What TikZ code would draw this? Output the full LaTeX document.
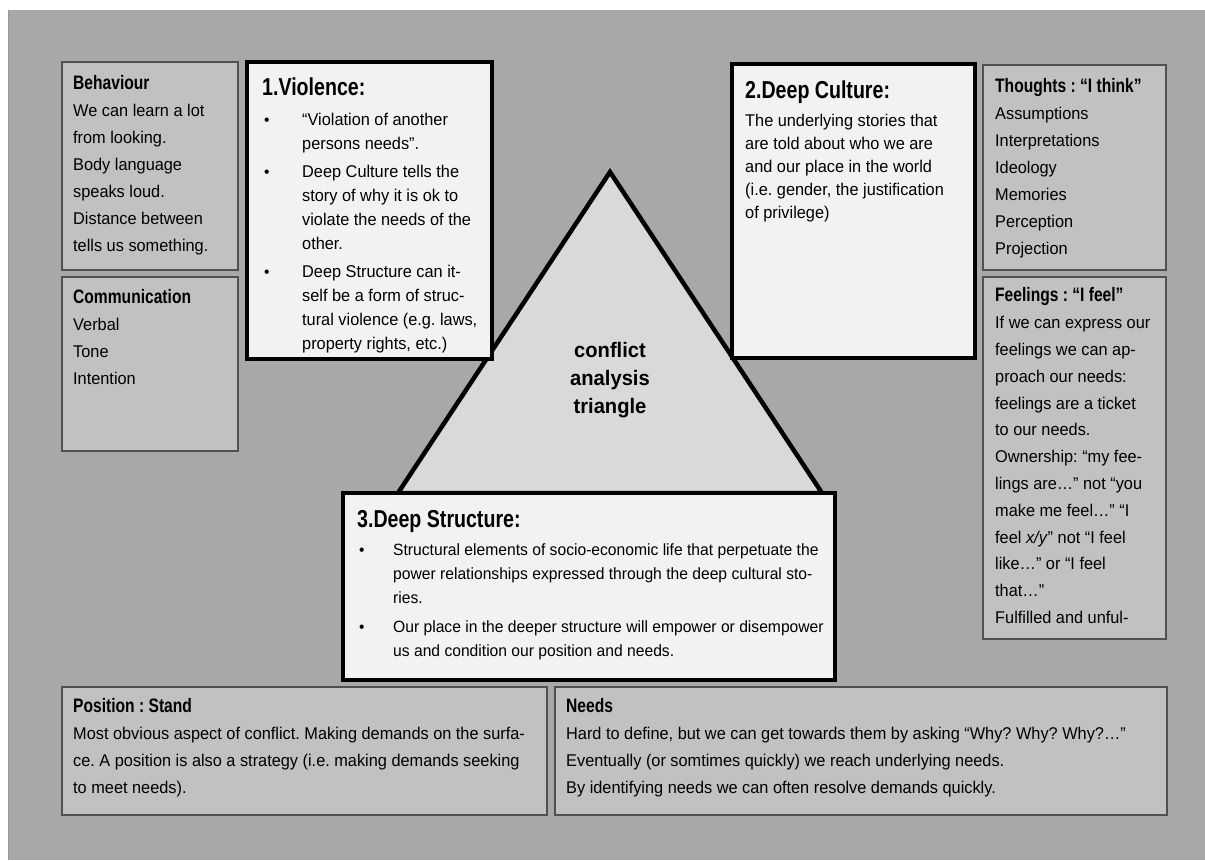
\documentclass[tikz,border=0pt]{standalone}
\usepackage{fontspec}
\setmainfont[FakeStretch=0.96]{Liberation Sans}
\newfontfamily\headface[FakeStretch=0.8]{Liberation Sans}
\usetikzlibrary{positioning}
\frenchspacing
\definecolor{bggray}{RGB}{168,168,168}
\definecolor{boxgray}{RGB}{193,193,193}
\definecolor{paper}{RGB}{242,242,242}
\definecolor{trigray}{RGB}{217,217,217}
\definecolor{edgegray}{RGB}{80,80,80}
\newcommand\boxhead[1]{{\headface\bfseries\fontsize{19.5}{19.5}\selectfont #1}}
\newcommand\bighead[1]{{\headface\bfseries\fontsize{24.5}{24.5}\selectfont #1}}
\newcommand\bul[1]{\makebox[#1][l]{\hspace{2pt}{\fontsize{16}{16}\selectfont\textbullet}}}

\begin{document}
\begin{tikzpicture}[x=1pt,y=-1pt,
    sidebox/.style={draw=edgegray, line width=1.6pt, fill=boxgray, inner sep=0pt, outer sep=0pt},
    mainbox/.style={draw=black, line width=4.5pt, fill=paper, inner sep=0pt, outer sep=0pt},
    boxtext/.style={anchor=north west, align=left, inner sep=0pt},
    wide/.style={font=\fontsize{17}{27}\selectfont},
    tight/.style={font=\fontsize{17}{24}\selectfont}]
    \useasboundingbox (0,0) rectangle (1205,860);
    \fill[bggray] (8,10) rectangle (1205,860);
    \draw[edgegray!60, line width=1pt] (8,10) -- (8,860);

    % the triangle in the middle
    \coordinate (apex) at (610,172);
    \coordinate (leftfoot) at (398,493);
    \coordinate (rightfoot) at (822,493);
    \draw[line width=4.5pt, fill=trigray, line join=miter] (apex) -- (rightfoot) -- (leftfoot) -- cycle;
    \node[align=center, font=\bfseries\fontsize{21}{28}\selectfont] (trilabel) at (610,380)
      {conflict\\analysis\\triangle};

    % left column
    \node[sidebox, anchor=north west, minimum width=176pt, minimum height=208pt] (behaviour) at (62,62) {};
    \node[sidebox, below=7pt of behaviour, minimum width=176pt, minimum height=174pt] (communication) {};
    \node[boxtext, wide] (behaviourtext) at ([shift={(11,8)}]behaviour.north west)
      {\strut\boxhead{Behaviour}\\
       We can learn a lot\\
       from looking.\\
       Body language\\
       speaks loud.\\
       Distance between\\
       tells us something.};
    \node[boxtext, wide] (communicationtext) at ([shift={(11,7)}]communication.north west)
      {\strut\boxhead{Communication}\\
       Verbal\\
       Tone\\
       Intention};

    % right column
    \node[sidebox, anchor=north west, minimum width=183pt, minimum height=205pt] (thoughts) at (983,65) {};
    \node[sidebox, below=7pt of thoughts, minimum width=183pt, minimum height=362pt] (feelings) {};
    \node[boxtext, wide] (thoughtstext) at ([shift={(12,8)}]thoughts.north west)
      {\strut\boxhead{Thoughts : “I think”}\\
       Assumptions\\
       Interpretations\\
       Ideology\\
       Memories\\
       Perception\\
       Projection};
    \node[boxtext, font=\fontsize{17}{26.8}\selectfont] (feelingstext) at ([shift={(12,6)}]feelings.north west)
      {\strut\boxhead{Feelings : “I feel”}\\
       If we can express our\\
       feelings we can ap-\\
       proach our needs:\\
       feelings are a ticket\\
       to our needs.\\
       Ownership: “my fee-\\
       lings are…” not “you\\
       make me feel…” “I\\
       feel \textit{x/y}” not “I feel\\
       like…” or “I feel\\
       that…”\\
       Fulfilled and unful-};

    % the three corners
    \node[mainbox, anchor=north west, minimum width=245pt, minimum height=297pt] (violence) at (247,62) {};
    \node[boxtext, tight] (violencetext) at ([shift={(15,16)}]violence.north west)
      {\strut\bighead{1.Violence:}\\[6pt]
       \bul{40pt}“Violation of another\\
       \hspace*{40pt}persons needs”.\\[4pt]
       \bul{40pt}Deep Culture tells the\\
       \hspace*{40pt}story of why it is ok to\\
       \hspace*{40pt}violate the needs of the\\
       \hspace*{40pt}other.\\[4pt]
       \bul{40pt}Deep Structure can it-\\
       \hspace*{40pt}self be a form of struc-\\
       \hspace*{40pt}tural violence (e.g. laws,\\
       \hspace*{40pt}property rights, etc.)};

    \node[mainbox, anchor=north west, minimum width=243pt, minimum height=294pt] (deepculture) at (732,64) {};
    \node[boxtext, font=\fontsize{17}{23}\selectfont] (deepculturetext) at ([shift={(13,17)}]deepculture.north west)
      {\strut\bighead{2.Deep Culture:}\\[5pt]
       The underlying stories that\\
       are told about who we are\\
       and our place in the world\\
       (i.e. gender, the justification\\
       of privilege)};

    \node[mainbox, anchor=north west, minimum width=492pt, minimum height=187pt] (deepstructure) at (343,493) {};
    \node[boxtext, font=\fontsize{16.3}{24}\selectfont] (deepstructuretext) at ([shift={(14,17)}]deepstructure.north west)
      {\strut\bighead{3.Deep Structure:}\\[4pt]
       \bul{36pt}Structural elements of socio-economic life that perpetuate the\\
       \hspace*{36pt}power relationships expressed through the deep cultural sto-\\
       \hspace*{36pt}ries.\\[5pt]
       \bul{36pt}Our place in the deeper structure will empower or disempower\\
       \hspace*{36pt}us and condition our position and needs.};

    % bottom row
    \node[sidebox, anchor=north west, minimum width=485pt, minimum height=128pt] (position) at (62,687) {};
    \node[sidebox, right=8pt of position, minimum width=612pt, minimum height=128pt] (needs) {};
    \node[boxtext, wide] (positiontext) at ([shift={(11,6)}]position.north west)
      {\strut\boxhead{Position : Stand}\\
       Most obvious aspect of conflict. Making demands on the surfa-\\
       ce. A position is also a strategy (i.e. making demands seeking\\
       to meet needs).};
    \node[boxtext, wide] (needstext) at ([shift={(11,6)}]needs.north west)
      {\strut\boxhead{Needs}\\
       Hard to define, but we can get towards them by asking “Why? Why? Why?…”\\
       Eventually (or somtimes quickly) we reach underlying needs.\\
       By identifying needs we can often resolve demands quickly.};
\end{tikzpicture}
\end{document}
